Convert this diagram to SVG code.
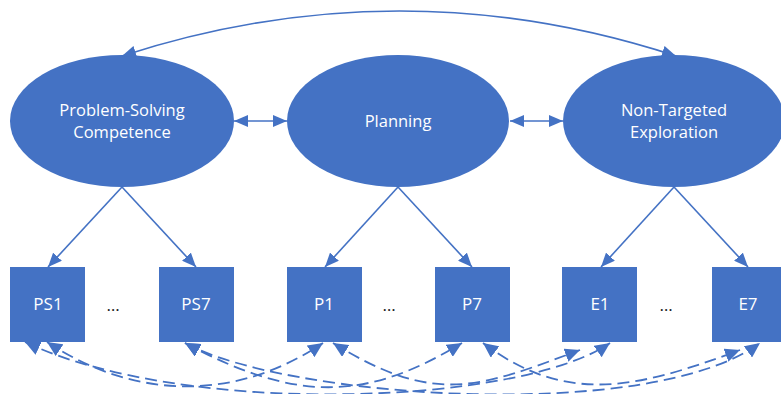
<svg xmlns="http://www.w3.org/2000/svg" width="781" height="394" viewBox="0 0 781 394">
  <style>
    .latent { fill: #4472C4; }
    .item { fill: #4472C4; }
    .lbl { fill: #ffffff; font-family: "Open Sans", "Noto Sans", sans-serif; font-size: 16.5px; text-anchor: middle; }
    .ilbl { fill: #ffffff; font-family: "Open Sans", "Noto Sans", sans-serif; font-size: 17px; text-anchor: middle; }
    .dots { fill: #1a1a1a; font-family: "Open Sans", "Noto Sans", sans-serif; font-size: 17px; text-anchor: middle; }
    .solid { fill: none; stroke: #4472C4; stroke-width: 1.6; }
    .dash { fill: none; stroke: #4472C4; stroke-width: 1.8; stroke-dasharray: 12 6; marker-start: url(#headD); marker-end: url(#headD); }
  </style>
  <defs>
    <marker id="head" markerUnits="userSpaceOnUse" markerWidth="14" markerHeight="12" refX="14" refY="6" orient="auto-start-reverse" viewBox="0 0 14 12">
      <path d="M0,0 L14,6 L0,12 z" fill="#4472C4"/>
    </marker>
    <marker id="headD" markerUnits="userSpaceOnUse" markerWidth="15" markerHeight="14" refX="15" refY="7" orient="auto-start-reverse" viewBox="0 0 15 14">
      <path d="M0,0 L15,7 L0,14 z" fill="#4472C4"/>
    </marker>
  </defs>

  <!-- latent factors -->
  <g id="problem-solving">
    <ellipse class="latent" cx="122" cy="121" rx="112" ry="66"/>
    <text class="lbl" x="122" y="116">Problem-Solving</text>
    <text class="lbl" x="122" y="138">Competence</text>
  </g>
  <g id="planning">
    <ellipse class="latent" cx="398" cy="121" rx="111" ry="66"/>
    <text class="lbl" x="398" y="127">Planning</text>
  </g>
  <g id="exploration">
    <ellipse class="latent" cx="674" cy="121" rx="111" ry="66"/>
    <text class="lbl" x="674" y="116">Non-Targeted</text>
    <text class="lbl" x="674" y="138">Exploration</text>
  </g>

  <!-- indicators -->
  <g id="ps1"><rect class="item" x="10" y="267" width="75" height="75"/><text class="ilbl" x="48" y="310">PS1</text></g>
  <g id="ps7"><rect class="item" x="159" y="267" width="75" height="75"/><text class="ilbl" x="196" y="310">PS7</text></g>
  <g id="p1"><rect class="item" x="287" y="267" width="75" height="75"/><text class="ilbl" x="324" y="310">P1</text></g>
  <g id="p7"><rect class="item" x="435" y="267" width="75" height="75"/><text class="ilbl" x="472" y="310">P7</text></g>
  <g id="e1"><rect class="item" x="562" y="267" width="75" height="75"/><text class="ilbl" x="600" y="310">E1</text></g>
  <g id="e7"><rect class="item" x="712" y="267" width="75" height="75"/><text class="ilbl" x="748" y="310">E7</text></g>

  <text class="dots" x="113" y="311">…</text>
  <text class="dots" x="389" y="311">…</text>
  <text class="dots" x="666" y="311">…</text>

  <g id="connectors">
    <!-- factor covariances -->
    <path class="solid" d="M122,56 Q400,-34 676,56" marker-start="url(#head)" marker-end="url(#head)"/>
    <path class="solid" d="M234,121 L287,121" marker-start="url(#head)" marker-end="url(#head)"/>
    <path class="solid" d="M510,121 L563,121" marker-start="url(#head)" marker-end="url(#head)"/>
    <!-- loadings -->
    <path class="solid" d="M122,187 L48,267" marker-end="url(#head)"/>
    <path class="solid" d="M122,187 L196,267" marker-end="url(#head)"/>
    <path class="solid" d="M398,187 L325,267" marker-end="url(#head)"/>
    <path class="solid" d="M398,187 L472,267" marker-end="url(#head)"/>
    <path class="solid" d="M674,187 L601,267" marker-end="url(#head)"/>
    <path class="solid" d="M674,187 L748,267" marker-end="url(#head)"/>
    <!-- residual covariances -->
    <path class="dash" d="M47,342 C135,400 235,402 323,343"/>
    <path class="dash" d="M25,342 C185,418 520,405 610,343"/>
    <path class="dash" d="M185,343 C295,402 365,402 462,343"/>
    <path class="dash" d="M185,343 C285,398 650,424 760,343"/>
    <path class="dash" d="M333,343 C435,406 478,388 580,350"/>
    <path class="dash" d="M483,343 C567,406 638,388 740,350"/>
  </g>
</svg>
